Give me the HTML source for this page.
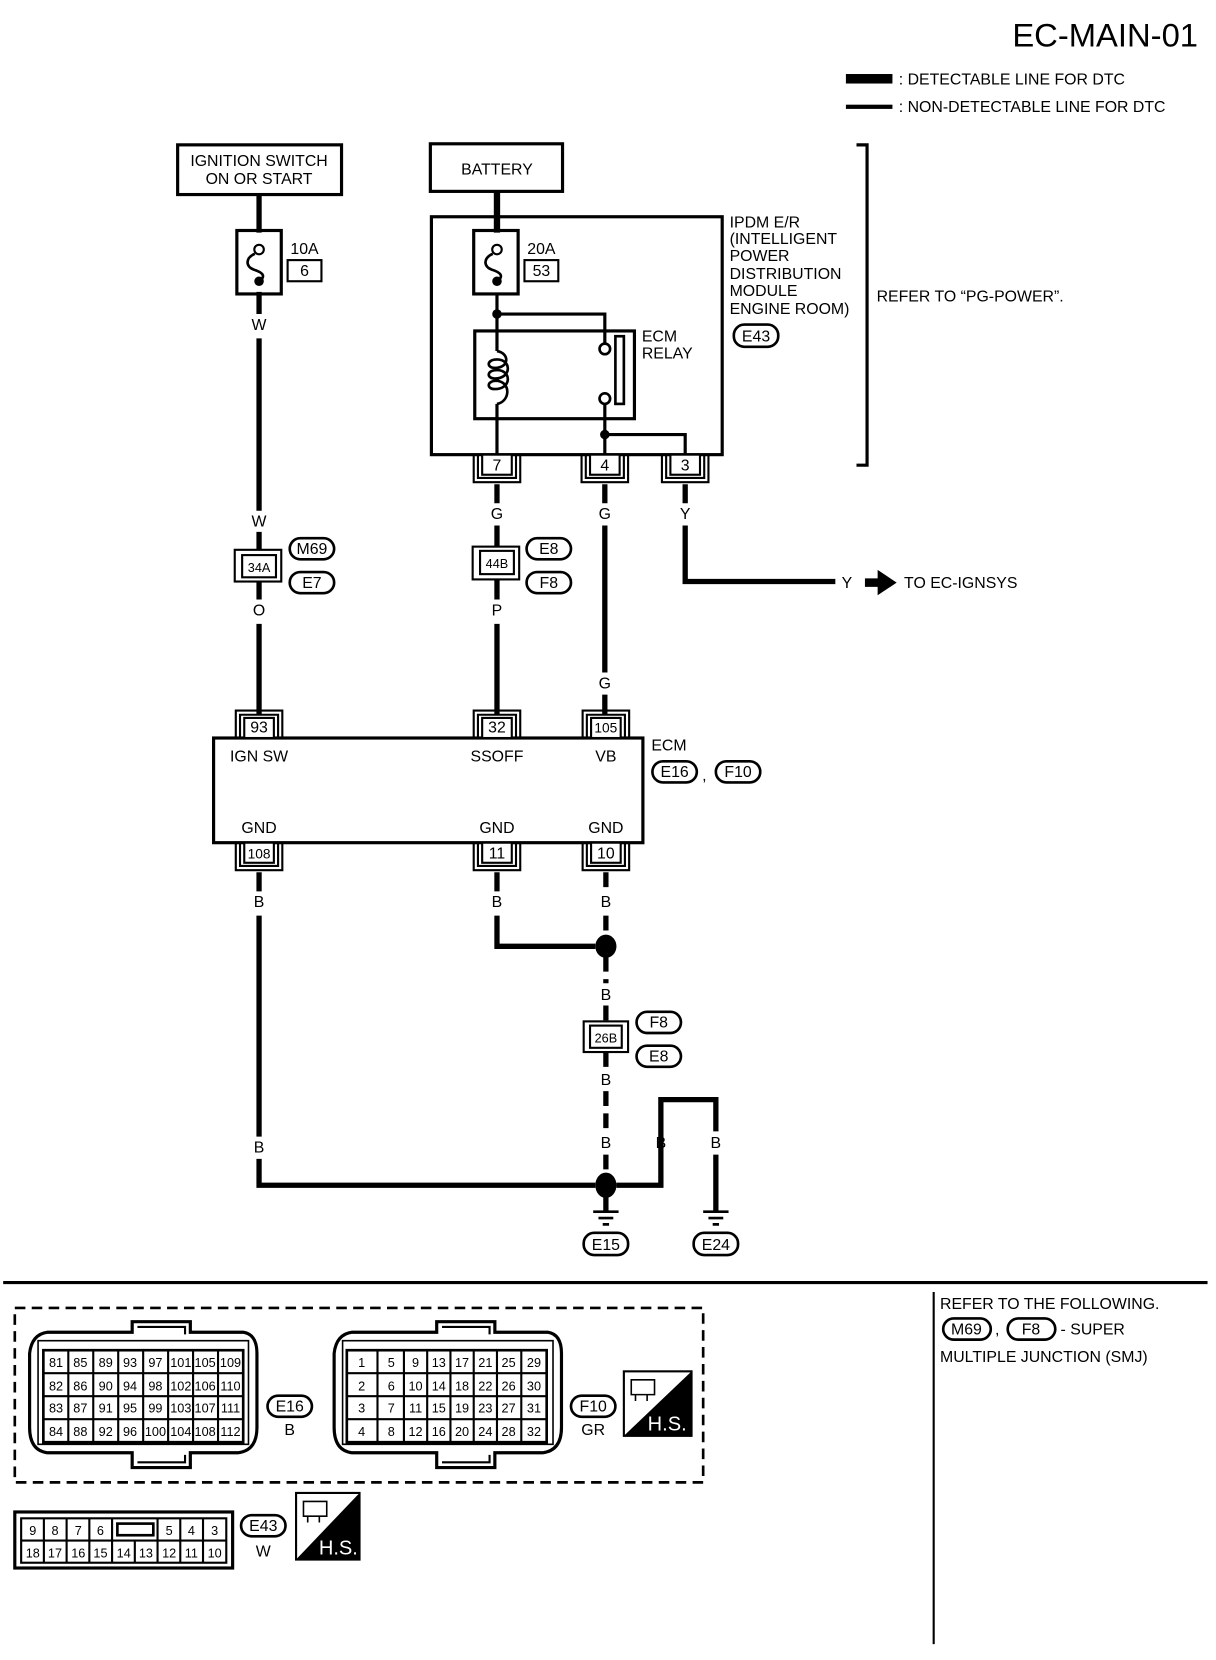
<!DOCTYPE html>
<html><head><meta charset="utf-8"><style>
html,body{margin:0;padding:0;background:#fff;width:1216px;height:1660px;overflow:hidden}
svg{display:block}
text{font-family:"Liberation Sans",sans-serif;fill:#000}
</style></head><body>
<svg width="1216" height="1660" viewBox="0 0 1150 1570" preserveAspectRatio="none" xmlns="http://www.w3.org/2000/svg">
<defs>
<g id="cb" fill="none" stroke="#000" stroke-width="2">
<path d="M-22 0V26H22V0M-18 0V22H18V0"/><rect x="-14" y="0" width="28" height="19" fill="#fff"/>
</g>
</defs>
<g font-size="15">
<text x="1133" y="44" font-size="31" text-anchor="end">EC-MAIN-01</text>
<rect x="800" y="70" width="44" height="9" fill="#000"/>
<rect x="800" y="99" width="44" height="4" fill="#000"/>
<text x="850" y="80">: DETECTABLE LINE FOR DTC</text>
<text x="850" y="106">: NON-DETECTABLE LINE FOR DTC</text>

<g fill="none" stroke="#000">
<rect x="168" y="137" width="155" height="47" stroke-width="3"/>
<path d="M245 184V220M245 276V297M245 320V483M245 503V520M245 550V567M245 590V676" stroke-width="5"/>
<rect x="224" y="218" width="42" height="60" stroke-width="3"/>
<path d="M241 240C232 244 232 252 240 255C250 258 251 262 245 266" stroke-width="2.5"/>
<rect x="272" y="246" width="32" height="20" stroke-width="2"/>
<rect x="407" y="136" width="125" height="45" stroke-width="3"/>
<path d="M470 181V220" stroke-width="6"/>
<rect x="408" y="205" width="275" height="225" stroke-width="3"/>
<rect x="448" y="218" width="42" height="60" stroke-width="3"/>
<path d="M466 240C457 244 457 252 465 255C475 258 476 262 470 266" stroke-width="2.5"/>
<rect x="496" y="246" width="32" height="20" stroke-width="2"/>
<path d="M470 278V332M470 382V430M470 297H572V325M572 382V430M572 411H648V430" stroke-width="3"/>
<rect x="449" y="313" width="151" height="83" stroke-width="3"/>
<path d="M470 332C482 334 482 348 468 348C460 348 460 340 470 340C484 340 484 358 468 358C460 358 460 350 470 350C484 350 484 368 468 368C460 368 460 360 470 360C484 362 482 380 470 382" stroke-width="2.5"/>
<circle cx="572" cy="330" r="5" stroke-width="2.5"/>
<circle cx="572" cy="377" r="5" stroke-width="2.5"/>
<rect x="582" y="318" width="8" height="64" stroke-width="2.5"/>
<path d="M810 137H820V440H810" stroke-width="3"/>
<path d="M470 458V476M470 497V517M470 548V567M470 590V676" stroke-width="5"/>
<path d="M572 458V476M572 497V636M572 657V676" stroke-width="5"/>
<path d="M648 458V476M648 497V550H790" stroke-width="5"/>
<rect x="202" y="698" width="406" height="99" stroke-width="3"/>
<path d="M245 825V843M245 866V1075M245 1096V1121H563M470 825V843M470 866V895H563" stroke-width="5"/>
<path d="M573 825V843M573 866V885M573 905V930M573 951V966M573 995V1010M573 1032V1070M573 1092V1110M573 1132V1145" stroke-width="5" stroke-dasharray="14,7"/>
<path d="M583 1121H625V1040H677V1070M625 1040V1070M625 1092V1121M677 1092V1146" stroke-width="5"/>
<path d="M561 1146H585M566 1152H580M570 1158H576M665 1146H689M670 1152H684M674 1158H680" stroke-width="2.5"/>
<rect x="552" y="966" width="42" height="29" stroke-width="2"/><rect x="558" y="970" width="30" height="21" stroke-width="2"/>
<rect x="222" y="520" width="44" height="30" stroke-width="2"/><rect x="229" y="525" width="32" height="21" stroke-width="2"/>
<rect x="447" y="517" width="44" height="31" stroke-width="2"/><rect x="454" y="521" width="32" height="22" stroke-width="2"/>
<g stroke-width="2.5">
<rect x="694" y="307" width="42" height="21" rx="10"/>
<rect x="274" y="509" width="42" height="20" rx="10"/><rect x="274" y="541" width="42" height="20" rx="10"/>
<rect x="498" y="509" width="42" height="20" rx="10"/><rect x="498" y="541" width="42" height="20" rx="10"/>
<rect x="617" y="720" width="42" height="20" rx="10"/><rect x="677" y="720" width="42" height="20" rx="10"/>
<rect x="602" y="957" width="42" height="20" rx="10"/><rect x="602" y="989" width="42" height="20" rx="10"/>
<rect x="552" y="1166" width="42" height="21" rx="10"/><rect x="656" y="1166" width="42" height="21" rx="10"/>
<rect x="892" y="1247" width="45" height="20" rx="10"/><rect x="953" y="1247" width="45" height="20" rx="10"/>
<rect x="253" y="1320" width="42" height="20" rx="10"/><rect x="540" y="1320" width="42" height="20" rx="10"/>
<rect x="228" y="1433" width="42" height="20" rx="10"/>
</g>
<path d="M3 1213H1142" stroke-width="3"/>
<path d="M883 1222V1555" stroke-width="2"/>
<rect x="14" y="1237" width="651" height="165" stroke-width="2.5" stroke-dasharray="10,6"/>
<path d="M125 1250H180V1260H230Q243 1262 243 1280V1350Q243 1372 225 1374H180V1388H125V1374H45Q28 1372 28 1350V1280Q30 1262 45 1260H125Z" stroke-width="3"/>
<path d="M36 1268H235V1366H36Z" stroke-width="1.5"/>
<path d="M413 1250H468V1260H518Q531 1262 531 1280V1350Q531 1372 513 1374H468V1388H413V1374H333Q316 1372 316 1350V1280Q318 1262 333 1260H413Z" stroke-width="3"/>
<path d="M324 1268H523V1366H324Z" stroke-width="1.5"/>
<path d="M130 1255H175V1262M418 1255H463V1262M130 1383H175V1376M418 1383H463V1376" stroke-width="2"/>
<rect x="41" y="1277" width="189" height="87" stroke-width="2.5"/>
<path d="M64.6 1277V1364M88.2 1277V1364M111.8 1277V1364M135.4 1277V1364M159 1277V1364M182.6 1277V1364M206.2 1277V1364M41 1298.75H230M41 1320.5H230M41 1342.25H230" stroke-width="2"/>
<rect x="328" y="1277" width="189" height="87" stroke-width="2.5"/>
<path d="M357 1277V1364M382 1277V1364M404 1277V1364M426 1277V1364M448 1277V1364M470 1277V1364M493 1277V1364M328 1298.75H517M328 1320.5H517M328 1342.25H517" stroke-width="2"/>
<rect x="14" y="1430" width="206" height="53" stroke-width="3"/>
<rect x="20" y="1436" width="194" height="42" stroke-width="2"/>
<path d="M20 1457H214M41.5 1436V1478M63 1436V1478M84.5 1436V1478M106 1436V1478M149 1436V1457M127.5 1457V1478M149 1457V1478M170.5 1436V1478M192 1436V1478" stroke-width="2"/>
<rect x="111" y="1441" width="34" height="11" stroke-width="2.5"/>
<rect x="590" y="1297" width="64" height="61" stroke-width="2"/>
<rect x="280" y="1412" width="60" height="63" stroke-width="2"/>
</g>
<polygon points="654,1297 654,1358 590,1358" fill="#000"/>
<polygon points="340,1412 340,1475 280,1475" fill="#000"/>
<path d="M597 1305h22v14h-22zM601 1319v6M612 1319v6" fill="none" stroke="#000" stroke-width="1.5"/>
<path d="M287 1420h22v14h-22zM291 1434v6M302 1434v6" fill="none" stroke="#000" stroke-width="1.5"/>
<text x="631" y="1353" style="fill:#fff" font-size="19" text-anchor="middle">H.S.</text>
<text x="320" y="1470" style="fill:#fff" font-size="19" text-anchor="middle">H.S.</text>

<circle cx="245" cy="236" r="4.5" fill="#fff" stroke="#000" stroke-width="2"/><circle cx="245" cy="266" r="4.5"/>
<circle cx="470" cy="236" r="4.5" fill="#fff" stroke="#000" stroke-width="2"/><circle cx="470" cy="266" r="4.5"/>
<circle cx="470" cy="297" r="4.5"/><circle cx="572" cy="411" r="4.5"/>
<ellipse cx="573" cy="895" rx="10" ry="11"/><ellipse cx="573" cy="1121" rx="10" ry="12"/>
<path d="M818 547H830V539L848 551L830 563V555H818Z"/>

<use href="#cb" transform="translate(470,430)"/><use href="#cb" transform="translate(572,430)"/><use href="#cb" transform="translate(648,430)"/>
<use href="#cb" transform="translate(245,698) scale(1,-1)"/><use href="#cb" transform="translate(470,698) scale(1,-1)"/><use href="#cb" transform="translate(573,698) scale(1,-1)"/>
<use href="#cb" transform="translate(245,797)"/><use href="#cb" transform="translate(470,797)"/><use href="#cb" transform="translate(573,797)"/>

<g text-anchor="middle">
<text x="245" y="157">IGNITION SWITCH</text><text x="245" y="174">ON OR START</text>
<text x="288" y="240">10A</text><text x="288" y="261">6</text>
<text x="470" y="165">BATTERY</text>
<text x="512" y="240">20A</text><text x="512" y="261">53</text>
<text x="470" y="445">7</text><text x="572" y="445">4</text><text x="648" y="445">3</text>
<text x="245" y="312">W</text><text x="245" y="498">W</text><text x="470" y="491">G</text><text x="572" y="491">G</text><text x="648" y="491">Y</text>
<text x="245" y="541" font-size="12">34A</text><text x="470" y="537" font-size="12">44B</text>
<text x="295" y="524">M69</text><text x="295" y="556">E7</text><text x="519" y="524">E8</text><text x="519" y="556">F8</text>
<text x="245" y="582">O</text><text x="470" y="582">P</text><text x="572" y="651">G</text>
<text x="245" y="693">93</text><text x="470" y="693">32</text><text x="573" y="693" font-size="13">105</text>
<text x="245" y="720">IGN SW</text><text x="470" y="720">SSOFF</text><text x="573" y="720">VB</text>
<text x="245" y="788">GND</text><text x="470" y="788">GND</text><text x="573" y="788">GND</text>
<text x="245" y="812" font-size="13">108</text><text x="470" y="812">11</text><text x="573" y="812">10</text>
<text x="638" y="735">E16</text><text x="698" y="735">F10</text><text x="715" y="323">E43</text>
<text x="245" y="858">B</text><text x="470" y="858">B</text><text x="573" y="858">B</text>
<text x="573" y="946">B</text><text x="573" y="1026">B</text><text x="573" y="986" font-size="12">26B</text>
<text x="623" y="972">F8</text><text x="623" y="1004">E8</text>
<text x="245" y="1090">B</text><text x="573" y="1086">B</text><text x="625" y="1086">B</text><text x="677" y="1086">B</text>
<text x="573" y="1182">E15</text><text x="677" y="1182">E24</text>
<text x="801" y="556">Y</text>
<text x="914" y="1262">M69</text><text x="975" y="1262">F8</text>
<text x="274" y="1335">E16</text><text x="274" y="1357">B</text>
<text x="561" y="1335">F10</text><text x="561" y="1357">GR</text>
<text x="249" y="1448">E43</text><text x="249" y="1472">W</text>
</g>
<text x="607" y="323">ECM</text><text x="607" y="339">RELAY</text>
<text x="690" y="215">IPDM E/R</text><text x="690" y="231">(INTELLIGENT</text><text x="690" y="247">POWER</text><text x="690" y="264">DISTRIBUTION</text><text x="690" y="280">MODULE</text><text x="690" y="297">ENGINE ROOM)</text>
<text x="829" y="285">REFER TO “PG-POWER”.</text>
<text x="855" y="556">TO EC-IGNSYS</text>
<text x="616" y="710">ECM</text><text x="664" y="738">,</text>
<text x="889" y="1238">REFER TO THE FOLLOWING.</text>
<text x="941" y="1262">,</text><text x="1003" y="1262">- SUPER</text>
<text x="889" y="1288">MULTIPLE JUNCTION (SMJ)</text>

<g font-size="12" text-anchor="middle">
<text x="53" y="1293">81</text><text x="76" y="1293">85</text><text x="100" y="1293">89</text><text x="123" y="1293">93</text><text x="147" y="1293">97</text><text x="171" y="1293">101</text><text x="194" y="1293">105</text><text x="218" y="1293">109</text>
<text x="53" y="1315">82</text><text x="76" y="1315">86</text><text x="100" y="1315">90</text><text x="123" y="1315">94</text><text x="147" y="1315">98</text><text x="171" y="1315">102</text><text x="194" y="1315">106</text><text x="218" y="1315">110</text>
<text x="53" y="1336">83</text><text x="76" y="1336">87</text><text x="100" y="1336">91</text><text x="123" y="1336">95</text><text x="147" y="1336">99</text><text x="171" y="1336">103</text><text x="194" y="1336">107</text><text x="218" y="1336">111</text>
<text x="53" y="1358">84</text><text x="76" y="1358">88</text><text x="100" y="1358">92</text><text x="123" y="1358">96</text><text x="147" y="1358">100</text><text x="171" y="1358">104</text><text x="194" y="1358">108</text><text x="218" y="1358">112</text>
<text x="342" y="1293">1</text><text x="370" y="1293">5</text><text x="393" y="1293">9</text><text x="415" y="1293">13</text><text x="437" y="1293">17</text><text x="459" y="1293">21</text><text x="481" y="1293">25</text><text x="505" y="1293">29</text>
<text x="342" y="1315">2</text><text x="370" y="1315">6</text><text x="393" y="1315">10</text><text x="415" y="1315">14</text><text x="437" y="1315">18</text><text x="459" y="1315">22</text><text x="481" y="1315">26</text><text x="505" y="1315">30</text>
<text x="342" y="1336">3</text><text x="370" y="1336">7</text><text x="393" y="1336">11</text><text x="415" y="1336">15</text><text x="437" y="1336">19</text><text x="459" y="1336">23</text><text x="481" y="1336">27</text><text x="505" y="1336">31</text>
<text x="342" y="1358">4</text><text x="370" y="1358">8</text><text x="393" y="1358">12</text><text x="415" y="1358">16</text><text x="437" y="1358">20</text><text x="459" y="1358">24</text><text x="481" y="1358">28</text><text x="505" y="1358">32</text>
<text x="31" y="1452">9</text><text x="52" y="1452">8</text><text x="74" y="1452">7</text><text x="95" y="1452">6</text><text x="160" y="1452">5</text><text x="181" y="1452">4</text><text x="203" y="1452">3</text>
<text x="31" y="1473">18</text><text x="52" y="1473">17</text><text x="74" y="1473">16</text><text x="95" y="1473">15</text><text x="117" y="1473">14</text><text x="138" y="1473">13</text><text x="160" y="1473">12</text><text x="181" y="1473">11</text><text x="203" y="1473">10</text>
</g>
</g>
</svg>
</body></html>
